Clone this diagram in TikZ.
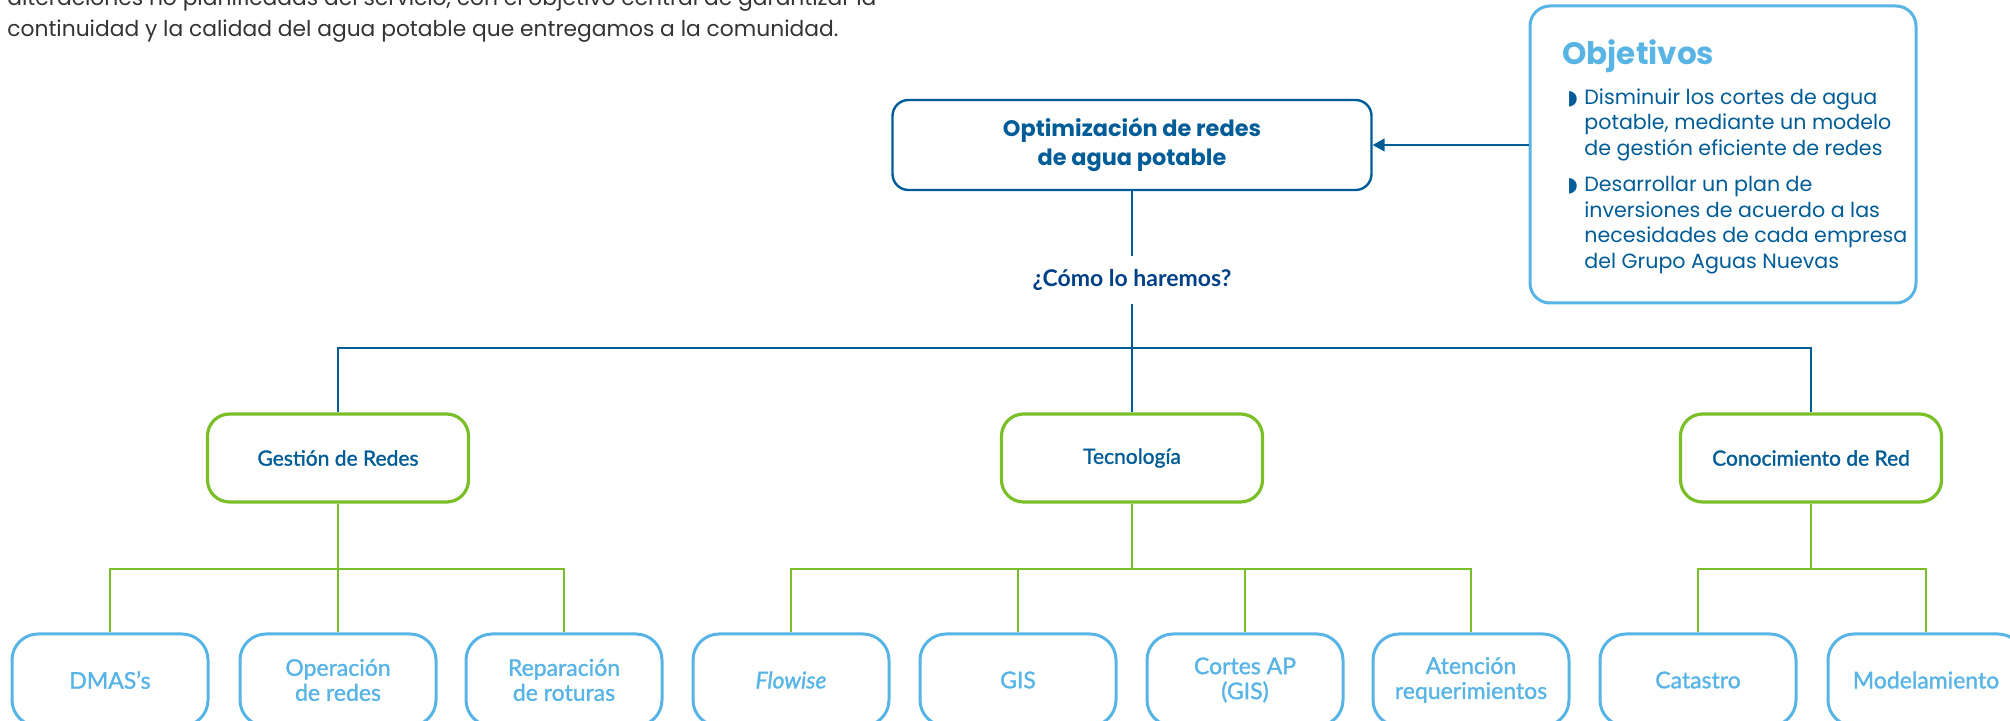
\documentclass[tikz,border=0pt]{standalone}
\usepackage{fontspec}
\setmainfont{Lato}
\newfontfamily\popp{Poppins}
\newfontfamily\latomedio{Lato}[FakeBold=1.3]
\newfontfamily\simbolos{DejaVu Sans}
\usetikzlibrary{arrows.meta}

\definecolor{azulesc}{RGB}{0,92,150}
\definecolor{azulmar}{RGB}{0,64,135}
\definecolor{azulcla}{RGB}{88,180,229}
\definecolor{verde}{RGB}{122,190,40}
\definecolor{cinza}{RGB}{51,51,51}

\newcommand{\marca}{\makebox[8.5pt][l]{\simbolos\fontsize{10}{10}\selectfont ◗}}

\begin{document}
\begin{tikzpicture}[x=0.5pt, y=-0.5pt,
    linha/.style={azulesc, line width=0.8pt},
    ramo/.style={verde, line width=0.8pt},
    seta/.style={azulesc, line width=0.8pt, -{Triangle[length=6pt,width=6.5pt]}},
    topo/.style={draw=azulesc, line width=1.2pt, rounded corners=8pt, minimum width=239.5pt, minimum height=45pt, align=center, text=azulesc, font=\popp\bfseries\fontsize{11.2}{14.5}\selectfont},
    eixo/.style={draw=verde, line width=1.6pt, rounded corners=11pt, minimum width=130.5pt, minimum height=44pt, text=azulesc, font=\latomedio\fontsize{10.5}{12}\selectfont},
    acao/.style={draw=azulcla, line width=1.5pt, rounded corners=13pt, minimum width=98pt, minimum height=46pt, align=center, text=azulcla, font=\latomedio\fontsize{11.5}{12.5}\selectfont},
    texto/.style={inner sep=0pt, text=cinza, font=\popp\fontsize{10.9}{15}\selectfont},
    lista/.style={anchor=north west, inner sep=0pt, align=left, text=azulesc, font=\popp\fontsize{10.3}{12.75}\selectfont},
]
\useasboundingbox (0,0) rectangle (2010,721);
\clip (0,0) rectangle (2010,721);

% Texto do paragrafo
\node[texto, anchor=base west] (par1) at (7,6) {alteraciones no planificadas del servicio, con el objetivo central de garantizar la};
\node[texto, anchor=base west] (par2) at (7,37) {continuidad y la calidad del agua potable que entregamos a la comunidad.};

% Caixa principal
\node[topo] (opt) at (1132,145) {Optimización de redes\\de agua potable};
\node[inner sep=0pt, minimum height=24pt, text=azulmar, font=\bfseries\fontsize{11.5}{13}\selectfont] (como) at (1132,280) {¿Cómo lo haremos?};

% Objetivos
\node[draw=azulcla, line width=1.5pt, rounded corners=10pt, minimum width=193pt, minimum height=148.5pt] (obj) at (1723,154.5) {};
\node[anchor=base west, inner sep=0pt, text=azulcla, font=\popp\bfseries\fontsize{15.5}{17}\selectfont] (objtit) at (1562,65) {Objetivos};
\node[lista] (obj1) at (1567,88) {\marca Disminuir los cortes de agua\\\hspace*{8.5pt}potable, mediante un modelo\\\hspace*{8.5pt}de gestión eficiente de redes};
\node[lista] (obj2) at (1567,176) {\marca Desarrollar un plan de\\\hspace*{8.5pt}inversiones de acuerdo a las\\\hspace*{8.5pt}necesidades de cada empresa\\\hspace*{8.5pt}del Grupo Aguas Nuevas};
\draw[seta] (obj.west |- opt.east) -- (opt.east);

% Ejes
\node[eixo] (gest) at (338,458) {Gestión de Redes};
\node[eixo] (tec) at (1132,458) {Tecnología};
\node[eixo] (conh) at (1811,458) {Conocimiento de Red};

% Acciones
\node[acao] (dmas) at (110,680) {DMAS’s};
\node[acao] (oper) at (338,680) {Operación\\de redes};
\node[acao] (repa) at (564,680) {Reparación\\de roturas};
\node[acao] (flow) at (791,680) {\itshape Flowise};
\node[acao] (gis) at (1018,680) {GIS};
\node[acao] (cort) at (1245,680) {Cortes AP\\(GIS)};
\node[acao] (aten) at (1471,680) {Atención\\requerimientos};
\node[acao] (cata) at (1698,680) {Catastro};
\node[acao] (mode) at (1926,680) {Modelamiento};

% Ligacoes
\coordinate (bar) at (1132,348);
\draw[linha] (opt) -- (como);
\draw[linha] (como) -- (bar);
\draw[linha] (gest) |- (bar) -| (conh);
\draw[linha] (bar) -- (tec);

\coordinate (sg) at (338,569);
\coordinate (st) at (1132,569);
\coordinate (sc) at (1811,569);
\draw[ramo] (gest) -- (sg);
\draw[ramo] (dmas) |- (sg) -| (repa);
\draw[ramo] (sg) -- (oper);
\draw[ramo] (tec) -- (st);
\draw[ramo] (flow) |- (st) -| (aten);
\draw[ramo] (gis) |- (st);
\draw[ramo] (cort) |- (st);
\draw[ramo] (conh) -- (sc);
\draw[ramo] (cata) |- (sc) -| (mode);

\end{tikzpicture}
\end{document}
